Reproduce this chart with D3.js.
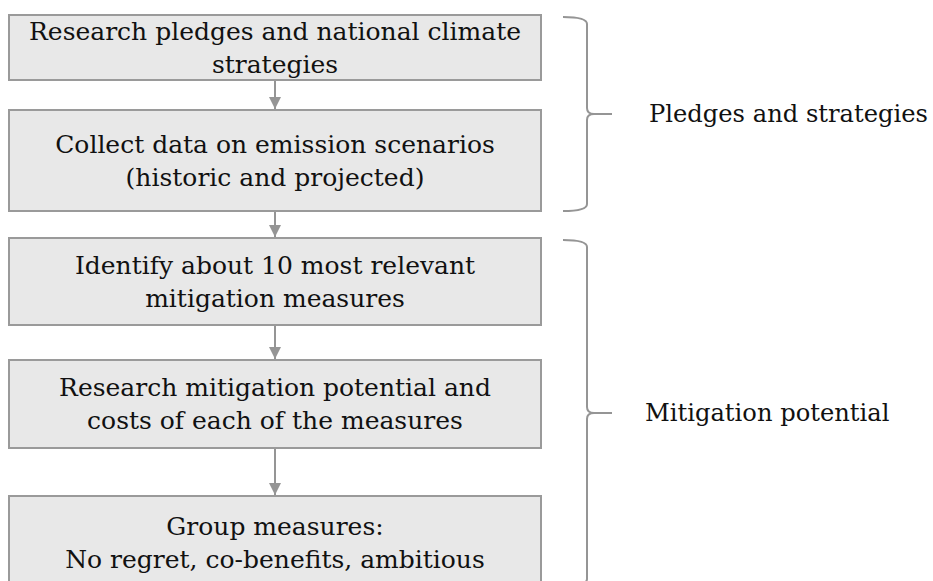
<!DOCTYPE html>
<html>

<head>
    <meta charset="utf-8">
    <script src="https://d3js.org/d3.v7.min.js"></script>
    <style>
        body { margin: 0; background: #fff; }
        text { font-family: "DejaVu Serif", serif; fill: #111; }
    </style>
</head>

<body>
    <script type="text/javascript">
        // flow steps, one entry per box, each with its text lines
        let steps = [
            ["Research pledges and national climate", "strategies"],
            ["Collect data on emission scenarios", "(historic and projected)"],
            ["Identify about 10 most relevant", "mitigation measures"],
            ["Research mitigation potential and", "costs of each of the measures"],
            ["Group measures:", "No regret, co-benefits, ambitious"]
        ];

        // groups of steps marked by a brace on the right
        let groupLabels = ["Pledges and strategies", "Mitigation potential"];

        // layout (pixels)
        let width = 933, height = 581;
        let boxLeft = 9, boxRight = 541;
        let boxTop = [15, 110, 238, 360, 496];
        let boxBottom = [80, 211, 325, 448, 590];
        let lineGap = 33;
        let grey = "#959595";

        let svg = d3.select("body")
            .append("svg")
                .attr("width", width)
                .attr("height", height);

        let defs = svg.append("defs");
        defs.append("marker")
            .attr("id", "head")
            .attr("viewBox", "0 0 10 10")
            .attr("refX", 10)
            .attr("refY", 5)
            .attr("markerWidth", 12)
            .attr("markerHeight", 12)
            .attr("markerUnits", "userSpaceOnUse")
            .attr("orient", "auto")
          .append("path")
            .attr("d", "M0,0 L10,5 L0,10 Z")
            .attr("fill", grey);

        let cx = (boxLeft + boxRight) / 2;

        // arrows between boxes
        svg.selectAll("line.arrow")
            .data(d3.range(steps.length - 1))
            .join("line")
                .attr("class", "arrow")
                .attr("x1", cx)
                .attr("x2", cx)
                .attr("y1", i => boxBottom[i] + 1)
                .attr("y2", i => boxTop[i + 1] - 1)
                .attr("stroke", grey)
                .attr("stroke-width", 2)
                .attr("marker-end", "url(#head)");

        let box = svg.selectAll("g.step")
            .data(steps)
            .join("g")
                .attr("class", "step");

        box.append("rect")
            .attr("x", boxLeft)
            .attr("y", (d, i) => boxTop[i])
            .attr("width", boxRight - boxLeft)
            .attr("height", (d, i) => boxBottom[i] - boxTop[i])
            .attr("fill", "#e8e8e8")
            .attr("stroke", "#9a9a9a")
            .attr("stroke-width", 2);

        box.append("text")
            .attr("text-anchor", "middle")
            .attr("font-size", 25)
            .selectAll("tspan")
            .data((d, i) => d.map((line, j) => ({ line, j, n: d.length, i })))
            .join("tspan")
                .attr("x", cx)
                .attr("y", t => (boxTop[t.i] + boxBottom[t.i]) / 2 + (t.j - (t.n - 1) / 2) * lineGap)
                .attr("dy", "0.34em")
                .text(t => t.line);

        // braces
        let braceBack = 563, braceX = 587, braceTip = 612;
        function bracePath(top, bottom) {
            let mid = (top + bottom) / 2;
            return `M${braceBack},${top} Q${braceX},${top} ${braceX},${top + 7}` +
                ` L${braceX},${mid - 6} Q${braceX},${mid} ${braceX + 7},${mid} L${braceTip},${mid}` +
                ` M${braceX + 7},${mid} Q${braceX},${mid} ${braceX},${mid + 6}` +
                ` L${braceX},${bottom - 7} Q${braceX},${bottom} ${braceBack},${bottom}`;
        }

        let braceTop = [17, 240];
        let braceBottom = [211, 586];

        let brace = svg.selectAll("g.brace")
            .data(groupLabels)
            .join("g")
                .attr("class", "brace");

        brace.append("path")
            .attr("d", (d, i) => bracePath(braceTop[i], braceBottom[i]))
            .attr("fill", "none")
            .attr("stroke", grey)
            .attr("stroke-width", 2);

        brace.append("text")
            .attr("x", (d, i) => i === 0 ? 649 : 645)
            .attr("y", (d, i) => (braceTop[i] + braceBottom[i]) / 2)
            .attr("dy", "0.34em")
            .attr("font-size", 24.2)
            .text(d => d);
    </script>
</body>

</html>
